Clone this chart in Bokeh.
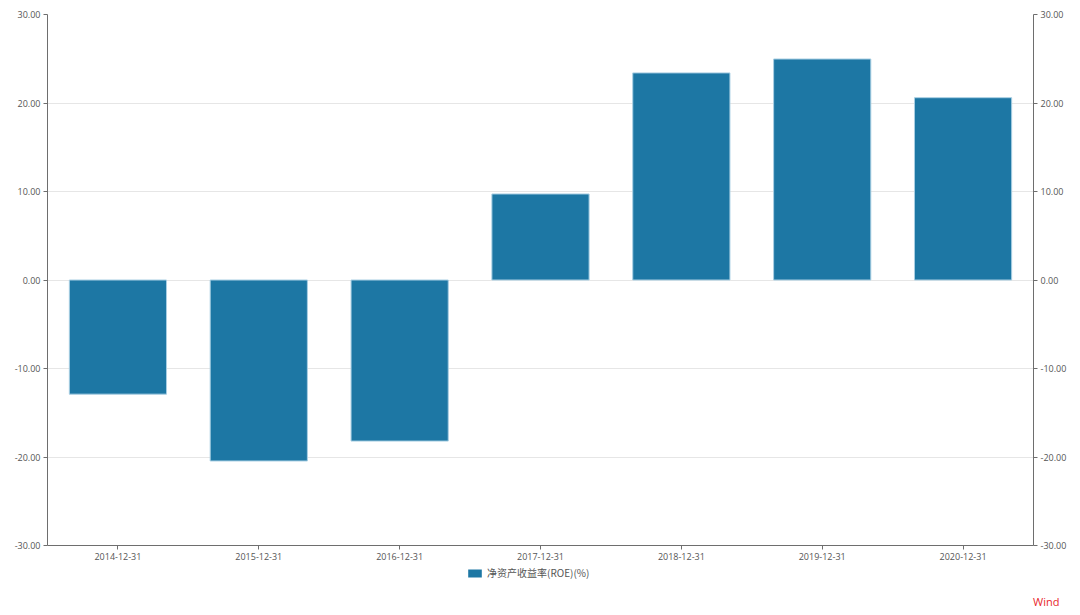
from bokeh.plotting import figure
from bokeh.layouts import column
from bokeh.models import (FactorRange, Range1d, LinearAxis, FixedTicker, NumeralTickFormatter,
                          ColumnDataSource, Legend, LegendItem, Title)
from bokeh.embed import file_html
from bokeh.resources import INLINE

dates = ["2014-12-31", "2015-12-31", "2016-12-31", "2017-12-31", "2018-12-31", "2019-12-31", "2020-12-31"]
roe = [-12.9, -20.45, -18.2, 9.72, 23.4, 24.97, 20.6]
y_ticks = [-30, -20, -10, 0, 10, 20, 30]
series_name = "净资产收益率(ROE)(%)"
source_text = "Wind"

BAR = "#1d77a4"
EDGE = "#a9cfe3"
AXIS = "#6e6e6e"
TXT = "#555555"
FONT = "Open Sans"

src = ColumnDataSource(dict(x=dates, top=roe))

p = figure(width=1080, height=565, x_range=FactorRange(*dates, range_padding=0),
           y_range=Range1d(-30, 30), output_backend="svg", toolbar_location=None,
           min_border_left=47, min_border_right=47, min_border_top=14, min_border_bottom=20)
p.outline_line_color = None

r = p.vbar(x="x", top="top", bottom=0, width=0.69, source=src, fill_color=BAR,
           line_color=EDGE, line_width=1)

p.yaxis.ticker = FixedTicker(ticks=y_ticks)
p.yaxis.formatter = NumeralTickFormatter(format="0.00")
right = LinearAxis(ticker=FixedTicker(ticks=y_ticks), formatter=NumeralTickFormatter(format="0.00"))
p.add_layout(right, "right")

for ax in [p.xaxis[0], p.yaxis[0], right]:
    ax.axis_line_color = AXIS
    ax.axis_line_width = 1
    ax.major_tick_line_color = AXIS
    ax.major_tick_out = 4
    ax.major_tick_in = 0
    ax.minor_tick_line_color = None
    ax.major_label_text_font = FONT
    ax.major_label_text_font_size = "9px"
    ax.major_label_text_color = TXT
    ax.major_label_standoff = 3

p.xgrid.grid_line_color = None
p.ygrid.ticker = FixedTicker(ticks=y_ticks)
p.ygrid.grid_line_color = "#e6e6e6"
p.ygrid.grid_line_width = 1

# legend strip below the chart (its frame is aligned with the chart's frame: left edge at x=47)
leg = figure(width=1080, height=43, x_range=FactorRange(*dates, range_padding=0),
             y_range=Range1d(100, 101), output_backend="svg", toolbar_location=None,
             min_border_left=47, min_border_right=47, min_border_top=0, min_border_bottom=0)
leg.outline_line_color = None
leg.axis.visible = False
leg.grid.visible = False
swatch = leg.vbar(x="x", top="top", bottom=0, width=0.69, source=src, fill_color=BAR,
                  line_color=None)
swatch.visible = False

legend = Legend(items=[LegendItem(label=series_name, renderers=[swatch])],
                location=(419, 11), orientation="horizontal",
                label_text_font="Noto Sans CJK SC", label_text_font_size="10px",
                label_text_color=TXT, glyph_width=17, glyph_height=10,
                label_height=10,
                background_fill_alpha=0, border_line_color=None, padding=0, margin=0,
                label_standoff=4)
leg.add_layout(legend, "center")

wind = Title(text=source_text, align="right", text_color="#e8262b", text_font=FONT,
             text_font_size="11px", text_font_style="normal", offset=-26, standoff=0)
leg.add_layout(wind, "below")

layout = column(p, leg, spacing=0)
open("out.html", "w").write(file_html(layout, INLINE))
